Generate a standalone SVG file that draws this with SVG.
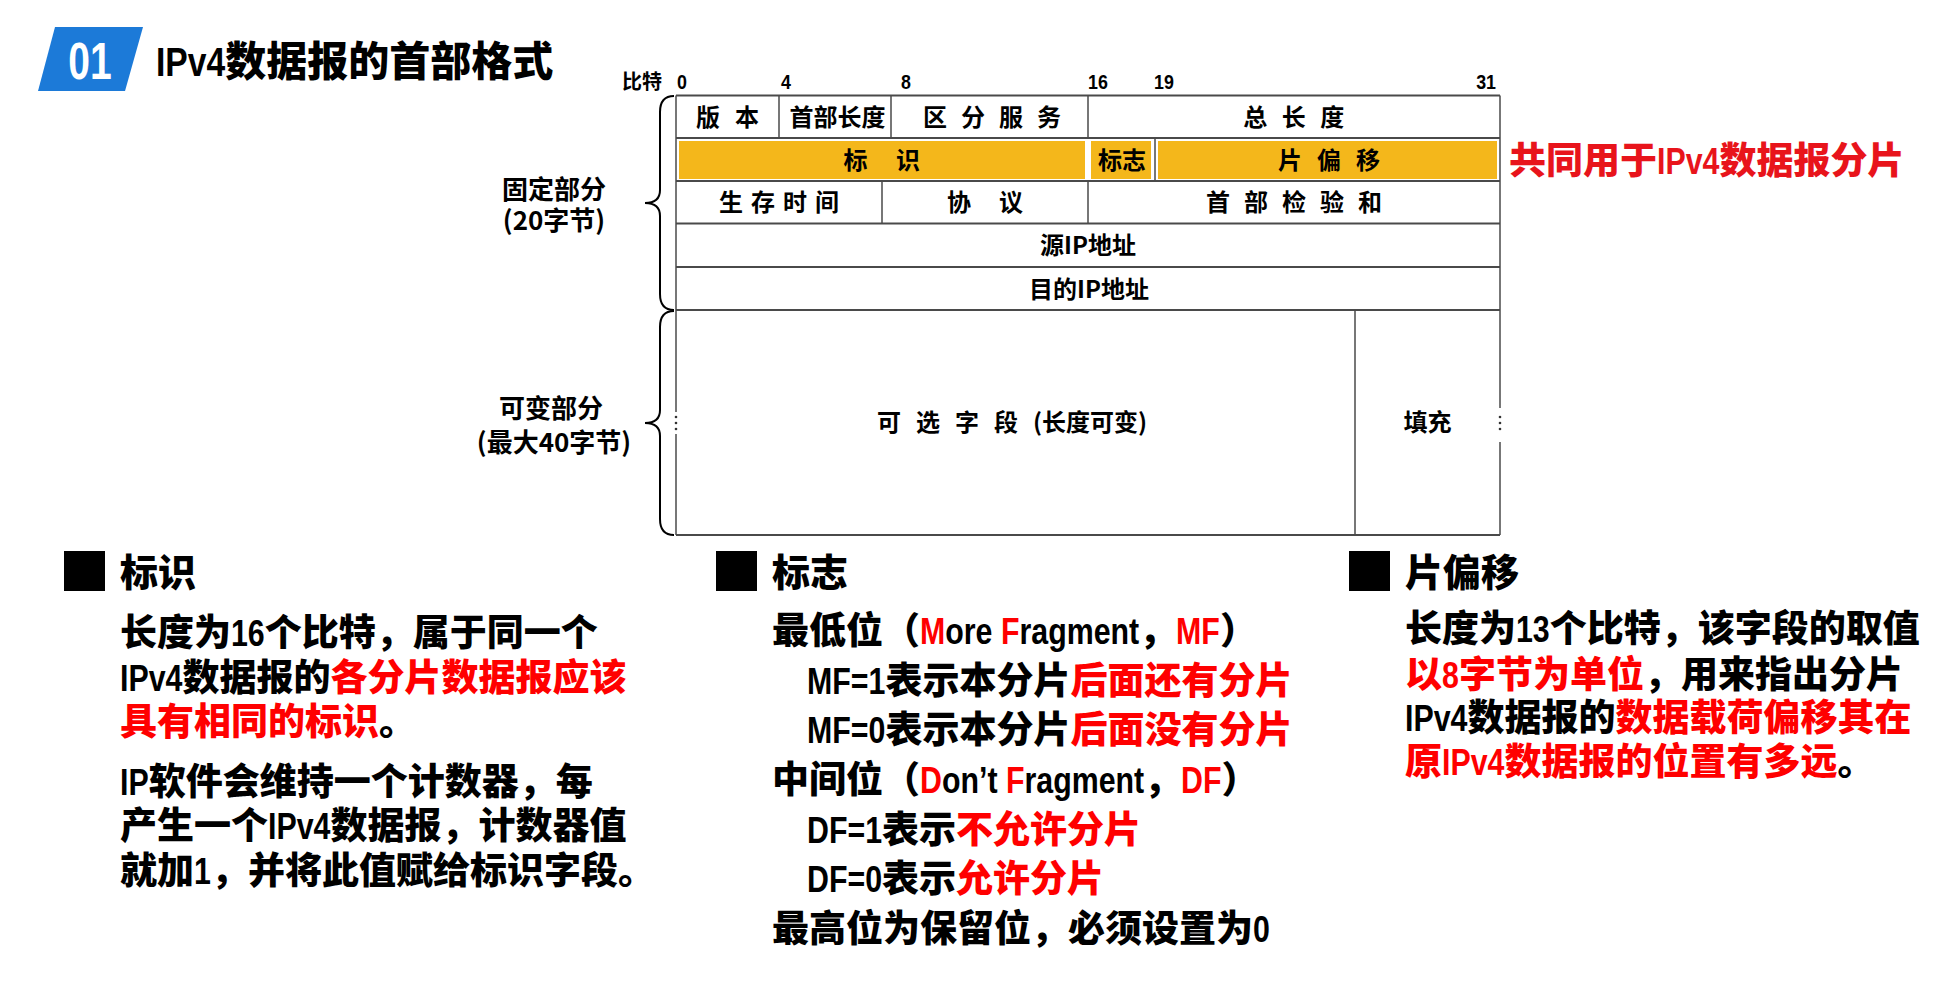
<svg xmlns="http://www.w3.org/2000/svg" width="1946" height="991" viewBox="0 0 1946 991">
<style>
.cj{font-family:"Noto Sans CJK SC",sans-serif;font-weight:700;fill:#000}
.lt{font-family:"Liberation Sans",Arial,sans-serif;font-weight:700;fill:#000}
.hv{font-weight:900}
.cell{font-size:24px;text-anchor:middle}
.body{font-size:37px}
.head{font-size:38px}
.r{fill:#ff0000}
.hl{stroke:#4a4a4a;stroke-width:2;fill:none}
.vl{stroke:#4a4a4a;stroke-width:1.5;fill:none}
.yel{fill:#f4b71b}
.brace{stroke:#000;stroke-width:2;fill:none}
.bit{font-size:21px}
</style>
<rect width="1946" height="991" fill="#fff"/>

<g id="header">
<polygon points="55,27 143,27 125,91 38,91" fill="#1c7ad8"/>
<text class="lt" transform="translate(90,79) scale(0.75,1)" font-size="52" text-anchor="middle" style="fill:#fff">01</text>
<text class="lt" transform="translate(156,76) scale(0.82,1)" font-size="41">IPv4</text>
<text class="cj hv" x="225.2" y="76" font-size="41">数据报的首部格式</text>
</g>

<g id="bits">
<text class="cj" x="622" y="89" font-size="20">比特</text>
<text class="lt bit" transform="translate(677,89) scale(0.85,1)">0</text>
<text class="lt bit" transform="translate(781,89) scale(0.85,1)">4</text>
<text class="lt bit" transform="translate(901,89) scale(0.85,1)">8</text>
<text class="lt bit" transform="translate(1088,89) scale(0.85,1)">16</text>
<text class="lt bit" transform="translate(1154,89) scale(0.85,1)">19</text>
<text class="lt bit" transform="translate(1496,89) scale(0.85,1)" text-anchor="end">31</text>
</g>

<g id="header-table">
<rect class="yel" x="679" y="141" width="406" height="38"/>
<rect class="yel" x="1091" y="141" width="60" height="38"/>
<rect class="yel" x="1158" y="141" width="339" height="38"/>
<line class="hl" x1="676" y1="95.5" x2="1500" y2="95.5"/>
<line class="hl" x1="676" y1="138" x2="1500" y2="138"/>
<line class="hl" x1="676" y1="181" x2="1500" y2="181"/>
<line class="hl" x1="676" y1="223.5" x2="1500" y2="223.5"/>
<line class="hl" x1="676" y1="267" x2="1500" y2="267"/>
<line class="hl" x1="676" y1="310" x2="1500" y2="310"/>
<line class="hl" x1="676" y1="535" x2="1500" y2="535"/>
<line class="vl" x1="676" y1="95.5" x2="676" y2="412"/>
<line class="vl" x1="676" y1="434" x2="676" y2="535"/>
<line class="vl" x1="1500" y1="95.5" x2="1500" y2="408"/>
<line class="vl" x1="1500" y1="442" x2="1500" y2="535"/>
<line class="vl" x1="779" y1="95.5" x2="779" y2="138"/>
<line class="vl" x1="891" y1="95.5" x2="891" y2="138"/>
<line class="vl" x1="1088" y1="95.5" x2="1088" y2="138"/>
<line class="vl" x1="1155" y1="138" x2="1155" y2="181"/>
<line class="vl" x1="882" y1="181" x2="882" y2="223.5"/>
<line class="vl" x1="1088" y1="181" x2="1088" y2="223.5"/>
<line class="vl" x1="1355" y1="310" x2="1355" y2="535"/>
<g fill="#333">
<circle cx="676" cy="417" r="1.3"/><circle cx="676" cy="423" r="1.3"/><circle cx="676" cy="429" r="1.3"/>
<circle cx="1500" cy="417" r="1.3"/><circle cx="1500" cy="423" r="1.3"/><circle cx="1500" cy="429" r="1.3"/>
</g>
</g>

<g id="cells">
<text class="cj cell" x="735" y="125.5" letter-spacing="15">版本</text>
<text class="cj cell" x="837.5" y="125.5">首部长度</text>
<text class="cj cell" x="999" y="125.5" letter-spacing="14">区分服务</text>
<text class="cj cell" x="1301" y="125.5" letter-spacing="14.5">总长度</text>
<text class="cj cell" x="896" y="168.5" letter-spacing="28.5">标识</text>
<text class="cj cell" x="1122" y="168.5">标志</text>
<text class="cj cell" x="1336.5" y="168.5" letter-spacing="15">片偏移</text>
<text class="cj cell" x="783" y="211" letter-spacing="8">生存时间</text>
<text class="cj cell" x="999" y="211" letter-spacing="28">协议</text>
<text class="cj cell" x="1301" y="211" letter-spacing="14">首部检验和</text>
<text class="cj cell" x="1088" y="254">源IP地址</text>
<text class="cj cell" x="1089" y="297.5">目的IP地址</text>
<text class="cj" x="877" y="431" font-size="24"><tspan letter-spacing="15">可选字段</tspan><tspan>(长度可变)</tspan></text>
<text class="cj cell" x="1427.5" y="431">填充</text>
</g>

<g id="braces">
<path class="brace" d="M674,96 C664,96 660,102 660,112 L660,190 C660,199 654,203 645,203 C654,203 660,207 660,216 L660,294 C660,304 664,310 674,310"/>
<path class="brace" d="M674,311 C664,311 660,317 660,327 L660,410 C660,419 654,423 645,423 C654,423 660,427 660,436 L660,519 C660,529 664,535 674,535"/>
<text class="cj" x="554" y="199" font-size="26" text-anchor="middle">固定部分</text>
<text class="cj" x="554" y="230" font-size="26" text-anchor="middle">(20字节)</text>
<text class="cj" x="551" y="418" font-size="26" text-anchor="middle">可变部分</text>
<text class="cj" x="554" y="452" font-size="26" text-anchor="middle">(最大40字节)</text>
</g>

<g id="note">
<text class="cj hv" x="1509" y="174" font-size="37" style="fill:#e8141b">共同用于</text>
<text class="lt" transform="translate(1657,174) scale(0.82,1)" font-size="37" style="fill:#e8141b">IPv4</text>
<text class="cj hv" x="1719.4" y="174" font-size="37" style="fill:#e8141b">数据报分片</text>
</g>

<g id="sec-id">
<rect x="64" y="551" width="41" height="40" fill="#000"/>
<text class="cj hv head" x="120" y="586">标识</text>
<text class="cj hv body" x="120" y="646">长度为</text>
<text class="lt body" transform="translate(231,646) scale(0.82,1)">16</text>
<text class="cj hv body" x="264.7" y="646">个比特，属于同一个</text>
<text class="lt body" transform="translate(120,691) scale(0.82,1)">IPv4</text>
<text class="cj hv body" x="182.4" y="691">数据报的<tspan class="r">各分片数据报应该</tspan></text>
<text class="cj hv body" x="120" y="735"><tspan class="r">具有相同的标识</tspan>。</text>
<text class="lt body" transform="translate(120,795) scale(0.82,1)">IP</text>
<text class="cj hv body" x="148.7" y="795">软件会维持一个计数器，每</text>
<text class="cj hv body" x="120" y="839">产生一个</text>
<text class="lt body" transform="translate(268,839) scale(0.82,1)">IPv4</text>
<text class="cj hv body" x="330.4" y="839">数据报，计数器值</text>
<text class="cj hv body" x="120" y="884">就加</text>
<text class="lt body" transform="translate(194,884) scale(0.82,1)">1</text>
<text class="cj hv body" x="210.9" y="884">，并将此值赋给标识字段。</text>
</g>

<g id="sec-flag">
<rect x="716" y="551" width="41" height="40" fill="#000"/>
<text class="cj hv head" x="772" y="586">标志</text>
<text class="cj hv body" x="772" y="644">最低位（</text>
<text class="lt body" transform="translate(920,644) scale(0.82,1)"><tspan class="r">M</tspan>ore <tspan class="r">F</tspan>ragment</text>
<text class="cj hv body" x="1139.1" y="644">，</text>
<text class="lt body r" transform="translate(1176.1,644) scale(0.82,1)">MF</text>
<text class="cj hv body" x="1219.9" y="644">）</text>
<text class="lt body" transform="translate(807,694) scale(0.82,1)">MF=1</text>
<text class="cj hv body" x="885.4" y="694">表示本分片<tspan class="r">后面还有分片</tspan></text>
<text class="lt body" transform="translate(807,743) scale(0.82,1)">MF=0</text>
<text class="cj hv body" x="885.4" y="743">表示本分片<tspan class="r">后面没有分片</tspan></text>
<text class="cj hv body" x="772" y="793">中间位（</text>
<text class="lt body" transform="translate(920,793) scale(0.82,1)"><tspan class="r">D</tspan>on’t <tspan class="r">F</tspan>ragment</text>
<text class="cj hv body" x="1144.1" y="793">，</text>
<text class="lt body r" transform="translate(1181.1,793) scale(0.82,1)">DF</text>
<text class="cj hv body" x="1221.5" y="793">）</text>
<text class="lt body" transform="translate(807,843) scale(0.82,1)">DF=1</text>
<text class="cj hv body" x="882" y="843">表示<tspan class="r">不允许分片</tspan></text>
<text class="lt body" transform="translate(807,892) scale(0.82,1)">DF=0</text>
<text class="cj hv body" x="882" y="892">表示<tspan class="r">允许分片</tspan></text>
<text class="cj hv body" x="772" y="942">最高位为保留位，必须设置为</text>
<text class="lt body" transform="translate(1253,942) scale(0.82,1)">0</text>
</g>

<g id="sec-offset">
<rect x="1349" y="551" width="41" height="40" fill="#000"/>
<text class="cj hv head" x="1405" y="586">片偏移</text>
<text class="cj hv body" x="1405" y="642">长度为</text>
<text class="lt body" transform="translate(1516,642) scale(0.82,1)">13</text>
<text class="cj hv body" x="1549.7" y="642">个比特，该字段的取值</text>
<text class="cj hv body r" x="1405" y="688">以</text>
<text class="lt body r" transform="translate(1442,688) scale(0.82,1)">8</text>
<text class="cj hv body" x="1458.9" y="688"><tspan class="r">字节为单位</tspan>，用来指出分片</text>
<text class="lt body" transform="translate(1405,731) scale(0.82,1)">IPv4</text>
<text class="cj hv body" x="1467.4" y="731">数据报的<tspan class="r">数据载荷偏移其在</tspan></text>
<text class="cj hv body r" x="1405" y="775">原</text>
<text class="lt body r" transform="translate(1442,775) scale(0.82,1)">IPv4</text>
<text class="cj hv body" x="1504.4" y="775"><tspan class="r">数据报的位置有多远</tspan>。</text>
</g>
</svg>
